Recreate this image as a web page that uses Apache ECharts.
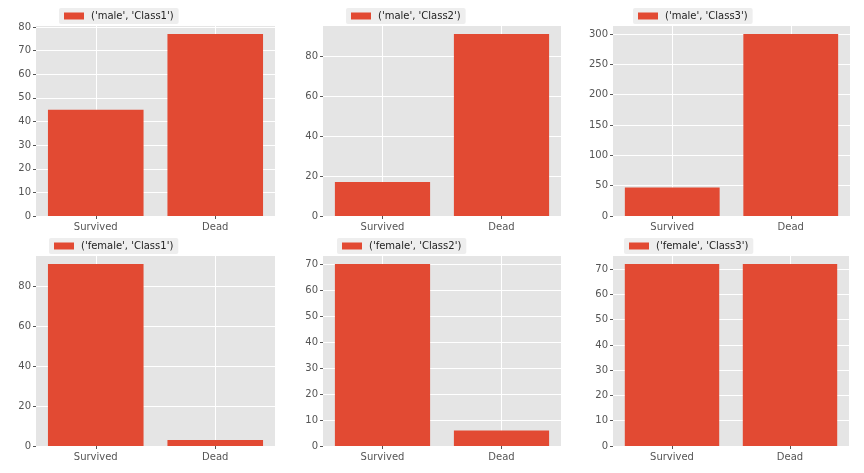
<!DOCTYPE html>
<html>
<head>
<meta charset="utf-8">
<script src="https://cdn.jsdelivr.net/npm/echarts@6/dist/echarts.min.js"></script>
<style>
html,body{margin:0;padding:0;background:#fff;}
#chart{width:864px;height:473px;}
</style>
</head>
<body>
<div id="chart"></div>
<script>
// Data
const categories = ['Survived', 'Dead'];
const panelNames = [
  "('male', 'Class1')", "('male', 'Class2')", "('male', 'Class3')",
  "('female', 'Class1')", "('female', 'Class2')", "('female', 'Class3')"
];
const maleClass1 = [45, 77];
const maleClass2 = [17, 91];
const maleClass3 = [47, 300];
const femaleClass1 = [91, 3];
const femaleClass2 = [70, 6];
const femaleClass3 = [72, 72];
const panelValues = [maleClass1, maleClass2, maleClass3, femaleClass1, femaleClass2, femaleClass3];
const tickIntervals = [10, 20, 50, 20, 10, 10];

// Layout
const grids = [
  {left: 36, top: 25, width: 239, height: 191},
  {left: 323, top: 25, width: 238, height: 191},
  {left: 613, top: 25, width: 237, height: 191},
  {left: 36, top: 255, width: 239, height: 191},
  {left: 323, top: 255, width: 238, height: 191},
  {left: 613, top: 255, width: 236, height: 191}
];
const legendPos = [
  {left: 59, top: 8}, {left: 346, top: 8}, {left: 633, top: 8},
  {left: 49, top: 238}, {left: 337, top: 238}, {left: 624, top: 238}
];

const BAR = '#E24A33';
const TXT = '#555555';
const FONT = 'DejaVu Sans';

const option = {
  animation: false,
  backgroundColor: '#ffffff',
  grid: grids.map(g => Object.assign({backgroundColor: '#E5E5E5', show: true, borderWidth: 0}, g)),
  xAxis: grids.map((g, i) => ({
    type: 'category',
    gridIndex: i,
    data: categories,
    axisLine: {show: false},
    axisTick: {show: true, alignWithLabel: true, length: 3, lineStyle: {color: TXT}},
    axisLabel: {color: TXT, fontFamily: FONT, fontSize: 10, margin: 6},
    splitLine: {show: true, alignWithLabel: true, lineStyle: {color: '#ffffff', width: 1}}
  })),
  yAxis: grids.map((g, i) => {
    const vmax = Math.max.apply(null, panelValues[i]) * 1.05;
    return {
      type: 'value',
      gridIndex: i,
      min: 0,
      max: vmax,
      interval: tickIntervals[i],
      axisLine: {show: false},
      axisTick: {show: true, length: 3, lineStyle: {color: TXT}},
      axisLabel: {
        color: TXT, fontFamily: FONT, fontSize: 10, margin: 5,
        showMaxLabel: false,
        formatter: v => (Math.abs(v / tickIntervals[i] - Math.round(v / tickIntervals[i])) < 1e-6 ? String(v) : '')
      },
      splitLine: {show: true, lineStyle: {color: '#ffffff', width: 1}}
    };
  }),
  legend: panelNames.map((n, i) => ({
    data: [n],
    left: legendPos[i].left,
    top: legendPos[i].top,
    backgroundColor: '#EEEEEE',
    borderRadius: 2,
    padding: [3, 5, 3, 5],
    itemWidth: 20,
    itemHeight: 7,
    itemGap: 0,
    icon: 'rect',
    selectedMode: false,
    textStyle: {color: '#222222', fontFamily: FONT, fontSize: 10, padding: [0, 0, 0, 2]}
  })),
  series: panelNames.map((n, i) => ({
    type: 'bar',
    name: n,
    xAxisIndex: i,
    yAxisIndex: i,
    data: panelValues[i],
    barWidth: '80%',
    itemStyle: {color: BAR},
    emphasis: {disabled: true}
  }))
};

const chart = echarts.init(document.getElementById('chart'), null, {renderer: 'canvas'});
chart.setOption(option);
</script>
</body>
</html>
